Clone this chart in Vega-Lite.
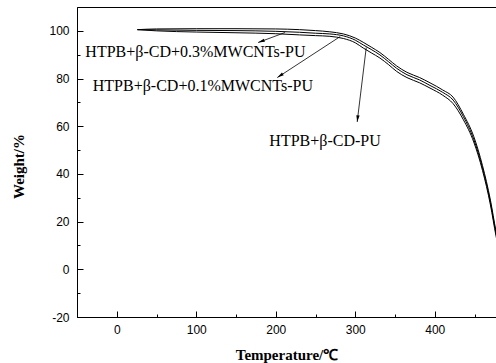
{
  "$schema": "https://vega.github.io/schema/vega-lite/v6.json",
  "width": 419,
  "height": 310,
  "autosize": {"type": "none"},
  "padding": {"left": 77, "top": 7, "right": 0, "bottom": 46},
  "background": "white",
  "config": {
    "view": {"stroke": "black", "strokeWidth": 1},
    "axis": {
      "grid": false,
      "domainColor": "black",
      "domainWidth": 1,
      "tickColor": "black",
      "tickWidth": 1,
      "labelFont": "Liberation Sans",
      "labelFontSize": 12,
      "labelColor": "black",
      "titleFont": "Liberation Serif",
      "titleFontSize": 15,
      "titleFontWeight": "bold",
      "titleColor": "black"
    }
  },
  "datasets": {
    "curves": [
      {"T": 26, "W": 100.5, "s": "HTPB+β-CD+0.3%MWCNTs-PU"},
      {"T": 50, "W": 100.8, "s": "HTPB+β-CD+0.3%MWCNTs-PU"},
      {"T": 100, "W": 100.9, "s": "HTPB+β-CD+0.3%MWCNTs-PU"},
      {"T": 150, "W": 100.9, "s": "HTPB+β-CD+0.3%MWCNTs-PU"},
      {"T": 200, "W": 100.8, "s": "HTPB+β-CD+0.3%MWCNTs-PU"},
      {"T": 230, "W": 100.5, "s": "HTPB+β-CD+0.3%MWCNTs-PU"},
      {"T": 250, "W": 100.1, "s": "HTPB+β-CD+0.3%MWCNTs-PU"},
      {"T": 268, "W": 99.6, "s": "HTPB+β-CD+0.3%MWCNTs-PU"},
      {"T": 285, "W": 98.7, "s": "HTPB+β-CD+0.3%MWCNTs-PU"},
      {"T": 300, "W": 97.0, "s": "HTPB+β-CD+0.3%MWCNTs-PU"},
      {"T": 310, "W": 95.2, "s": "HTPB+β-CD+0.3%MWCNTs-PU"},
      {"T": 320, "W": 93.2, "s": "HTPB+β-CD+0.3%MWCNTs-PU"},
      {"T": 331, "W": 90.9, "s": "HTPB+β-CD+0.3%MWCNTs-PU"},
      {"T": 342, "W": 88.0, "s": "HTPB+β-CD+0.3%MWCNTs-PU"},
      {"T": 352, "W": 85.3, "s": "HTPB+β-CD+0.3%MWCNTs-PU"},
      {"T": 365, "W": 82.6, "s": "HTPB+β-CD+0.3%MWCNTs-PU"},
      {"T": 381, "W": 80.4, "s": "HTPB+β-CD+0.3%MWCNTs-PU"},
      {"T": 394, "W": 78.2, "s": "HTPB+β-CD+0.3%MWCNTs-PU"},
      {"T": 410, "W": 75.2, "s": "HTPB+β-CD+0.3%MWCNTs-PU"},
      {"T": 423, "W": 72.2, "s": "HTPB+β-CD+0.3%MWCNTs-PU"},
      {"T": 436, "W": 65.0, "s": "HTPB+β-CD+0.3%MWCNTs-PU"},
      {"T": 449, "W": 55.7, "s": "HTPB+β-CD+0.3%MWCNTs-PU"},
      {"T": 460, "W": 43.5, "s": "HTPB+β-CD+0.3%MWCNTs-PU"},
      {"T": 470, "W": 29.0, "s": "HTPB+β-CD+0.3%MWCNTs-PU"},
      {"T": 477, "W": 16.0, "s": "HTPB+β-CD+0.3%MWCNTs-PU"},
      {"T": 485, "W": 4.0, "s": "HTPB+β-CD+0.3%MWCNTs-PU"},
      {"T": 26, "W": 100.5, "s": "HTPB+β-CD+0.1%MWCNTs-PU"},
      {"T": 50, "W": 100.4, "s": "HTPB+β-CD+0.1%MWCNTs-PU"},
      {"T": 100, "W": 100.2, "s": "HTPB+β-CD+0.1%MWCNTs-PU"},
      {"T": 150, "W": 100.1, "s": "HTPB+β-CD+0.1%MWCNTs-PU"},
      {"T": 200, "W": 99.8, "s": "HTPB+β-CD+0.1%MWCNTs-PU"},
      {"T": 230, "W": 99.4, "s": "HTPB+β-CD+0.1%MWCNTs-PU"},
      {"T": 250, "W": 99.0, "s": "HTPB+β-CD+0.1%MWCNTs-PU"},
      {"T": 268, "W": 98.7, "s": "HTPB+β-CD+0.1%MWCNTs-PU"},
      {"T": 285, "W": 97.9, "s": "HTPB+β-CD+0.1%MWCNTs-PU"},
      {"T": 300, "W": 96.1, "s": "HTPB+β-CD+0.1%MWCNTs-PU"},
      {"T": 310, "W": 94.1, "s": "HTPB+β-CD+0.1%MWCNTs-PU"},
      {"T": 320, "W": 92.2, "s": "HTPB+β-CD+0.1%MWCNTs-PU"},
      {"T": 331, "W": 89.9, "s": "HTPB+β-CD+0.1%MWCNTs-PU"},
      {"T": 342, "W": 87.0, "s": "HTPB+β-CD+0.1%MWCNTs-PU"},
      {"T": 352, "W": 84.3, "s": "HTPB+β-CD+0.1%MWCNTs-PU"},
      {"T": 365, "W": 81.6, "s": "HTPB+β-CD+0.1%MWCNTs-PU"},
      {"T": 381, "W": 79.4, "s": "HTPB+β-CD+0.1%MWCNTs-PU"},
      {"T": 394, "W": 77.1, "s": "HTPB+β-CD+0.1%MWCNTs-PU"},
      {"T": 410, "W": 74.2, "s": "HTPB+β-CD+0.1%MWCNTs-PU"},
      {"T": 423, "W": 71.0, "s": "HTPB+β-CD+0.1%MWCNTs-PU"},
      {"T": 436, "W": 64.0, "s": "HTPB+β-CD+0.1%MWCNTs-PU"},
      {"T": 449, "W": 54.5, "s": "HTPB+β-CD+0.1%MWCNTs-PU"},
      {"T": 460, "W": 42.5, "s": "HTPB+β-CD+0.1%MWCNTs-PU"},
      {"T": 470, "W": 28.0, "s": "HTPB+β-CD+0.1%MWCNTs-PU"},
      {"T": 477, "W": 15.0, "s": "HTPB+β-CD+0.1%MWCNTs-PU"},
      {"T": 485, "W": 3.0, "s": "HTPB+β-CD+0.1%MWCNTs-PU"},
      {"T": 26, "W": 100.5, "s": "HTPB+β-CD-PU"},
      {"T": 50, "W": 100.0, "s": "HTPB+β-CD-PU"},
      {"T": 100, "W": 99.5, "s": "HTPB+β-CD-PU"},
      {"T": 150, "W": 99.2, "s": "HTPB+β-CD-PU"},
      {"T": 200, "W": 98.8, "s": "HTPB+β-CD-PU"},
      {"T": 230, "W": 98.3, "s": "HTPB+β-CD-PU"},
      {"T": 250, "W": 98.0, "s": "HTPB+β-CD-PU"},
      {"T": 268, "W": 97.7, "s": "HTPB+β-CD-PU"},
      {"T": 285, "W": 96.8, "s": "HTPB+β-CD-PU"},
      {"T": 300, "W": 95.0, "s": "HTPB+β-CD-PU"},
      {"T": 310, "W": 92.8, "s": "HTPB+β-CD-PU"},
      {"T": 320, "W": 90.8, "s": "HTPB+β-CD-PU"},
      {"T": 331, "W": 88.6, "s": "HTPB+β-CD-PU"},
      {"T": 342, "W": 85.8, "s": "HTPB+β-CD-PU"},
      {"T": 352, "W": 83.0, "s": "HTPB+β-CD-PU"},
      {"T": 365, "W": 80.4, "s": "HTPB+β-CD-PU"},
      {"T": 381, "W": 78.2, "s": "HTPB+β-CD-PU"},
      {"T": 394, "W": 76.0, "s": "HTPB+β-CD-PU"},
      {"T": 410, "W": 73.0, "s": "HTPB+β-CD-PU"},
      {"T": 423, "W": 69.5, "s": "HTPB+β-CD-PU"},
      {"T": 436, "W": 62.7, "s": "HTPB+β-CD-PU"},
      {"T": 449, "W": 53.4, "s": "HTPB+β-CD-PU"},
      {"T": 460, "W": 41.5, "s": "HTPB+β-CD-PU"},
      {"T": 470, "W": 27.0, "s": "HTPB+β-CD-PU"},
      {"T": 477, "W": 14.0, "s": "HTPB+β-CD-PU"},
      {"T": 485, "W": 2.0, "s": "HTPB+β-CD-PU"}
    ],
    "labels": [
      {"T": 99, "W": 91.1, "label": "HTPB+β-CD+0.3%MWCNTs-PU"},
      {"T": 108.3, "W": 76.9, "label": "HTPB+β-CD+0.1%MWCNTs-PU"},
      {"T": 262, "W": 53.85, "label": "HTPB+β-CD-PU"}
    ],
    "arrows": [
      {"id": 1, "T": 211.7, "W": 99.3, "T2": 177.8, "W2": 95.1},
      {"id": 2, "T": 281, "W": 97.6, "T2": 201.9, "W2": 80.4},
      {"id": 3, "T": 313.8, "W": 93.0, "T2": 302.4, "W2": 61.8}
    ]
  },
  "resolve": {"axis": {"x": "independent", "y": "independent"}},
  "layer": [
    {
      "data": {"name": "curves"},
      "mark": {"type": "line", "color": "black", "strokeWidth": 1, "interpolate": "monotone", "clip": true},
      "encoding": {
        "x": {
          "field": "T", "type": "quantitative",
          "scale": {"domain": [-50, 477], "nice": false, "zero": false},
          "axis": {"orient": "bottom", "values": [0, 100, 200, 300, 400], "tickSize": -6, "labelPadding": 13, "title": "Temperature/℃", "titleBaseline": "alphabetic", "titleY": 42}
        },
        "y": {
          "field": "W", "type": "quantitative",
          "scale": {"domain": [-20, 110], "nice": false, "zero": false},
          "axis": {"orient": "left", "values": [-20, 0, 20, 40, 60, 80, 100], "tickSize": -6, "labelPadding": 14, "labelExpr": "replace(datum.label, '−', '-')", "title": "Weight/%", "titleBaseline": "alphabetic", "titleX": -54, "titleY": 159}
        },
        "detail": {"field": "s"}
      }
    },
    {
      "data": {"name": "labels"},
      "mark": {"type": "text", "font": "Liberation Serif", "fontSize": 16, "color": "black", "align": "center", "baseline": "middle"},
      "encoding": {
        "x": {"field": "T", "type": "quantitative", "axis": {"orient": "bottom", "values": [-50, 50, 150, 250, 350, 450], "tickSize": -3, "labels": false, "domain": false, "title": null}},
        "y": {"field": "W", "type": "quantitative", "axis": {"orient": "left", "values": [-10, 10, 30, 50, 70, 90], "tickSize": -3, "labels": false, "domain": false, "title": null}},
        "text": {"field": "label"}
      }
    },
    {
      "data": {"name": "arrows"},
      "mark": {"type": "rule", "color": "black", "strokeWidth": 0.8},
      "encoding": {
        "x": {"field": "T", "type": "quantitative", "axis": null},
        "y": {"field": "W", "type": "quantitative", "axis": null},
        "x2": {"field": "T2"},
        "y2": {"field": "W2"}
      }
    },
    {
      "data": {"name": "arrows"},
      "transform": [{"filter": "datum.id == 1"}],
      "mark": {"type": "point", "shape": "M0,0L0.35,1.4L-0.35,1.4Z", "filled": true, "color": "black", "opacity": 1, "size": 90, "angle": 250},
      "encoding": {
        "x": {"field": "T2", "type": "quantitative", "axis": null},
        "y": {"field": "W2", "type": "quantitative", "axis": null}
      }
    },
    {
      "data": {"name": "arrows"},
      "transform": [{"filter": "datum.id == 2"}],
      "mark": {"type": "point", "shape": "M0,0L0.35,1.4L-0.35,1.4Z", "filled": true, "color": "black", "opacity": 1, "size": 90, "angle": 237},
      "encoding": {
        "x": {"field": "T2", "type": "quantitative", "axis": null},
        "y": {"field": "W2", "type": "quantitative", "axis": null}
      }
    },
    {
      "data": {"name": "arrows"},
      "transform": [{"filter": "datum.id == 3"}],
      "mark": {"type": "point", "shape": "M0,0L0.35,1.4L-0.35,1.4Z", "filled": true, "color": "black", "opacity": 1, "size": 90, "angle": 187},
      "encoding": {
        "x": {"field": "T2", "type": "quantitative", "axis": null},
        "y": {"field": "W2", "type": "quantitative", "axis": null}
      }
    }
  ]
}
